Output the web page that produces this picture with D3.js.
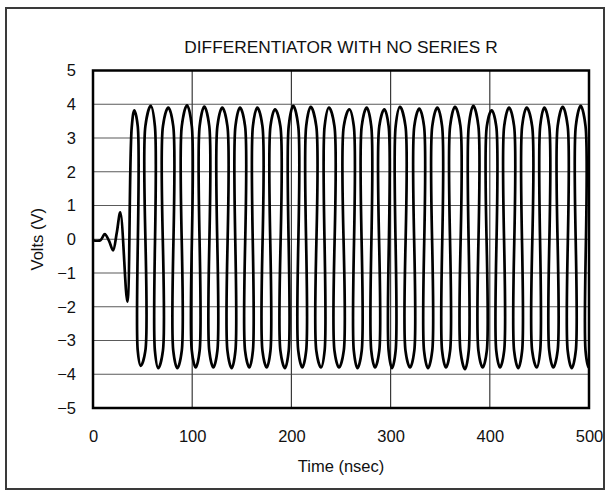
<!DOCTYPE html>
<html>
<head>
<meta charset="utf-8">
<script src="https://cdn.jsdelivr.net/npm/d3@7"></script>
<style>
  html, body { margin: 0; padding: 0; background: #fff; }
  svg { display: block; font-family: "Liberation Sans", Arial, Helvetica, sans-serif; }
</style>
</head>
<body>
<div id="chart"></div>
<script>
// ---- data ----
const chartTitle = "DIFFERENTIATOR WITH NO SERIES R";
const xLabel = "Time (nsec)";
const yLabel = "Volts (V)";
const xTicks = [0, 100, 200, 300, 400, 500];
const yTicks = [5, 4, 3, 2, 1, 0, -1, -2, -3, -4, -5];

// waveform vertices: [time (ns), volts]
const ringing = [
  [0, -0.03], [7.5, -0.03], [11.8, 0.15], [16.2, -0.05], [20.2, -0.33],
  [24, 0.2], [27.5, 0.8], [34.6, -1.85], [39.0, 3.3], [41.6, 3.82]
];
const oscillation = [
  [45.1,3.35],[45.1,-3.3],[48.1,-3.75],
  [52.8,-3.3],[52.8,3.35],[58.2,3.95],
  [62.4,3.35],[62.4,-3.3],[65.8,-3.82],
  [70.5,-3.3],[70.5,3.35],[75.9,3.9],
  [80.9,3.35],[80.9,-3.3],[85.0,-3.82],
  [89.5,-3.3],[89.5,3.35],[94.8,3.97],
  [99.6,3.35],[99.6,-3.3],[103.5,-3.8],
  [107.5,-3.3],[107.5,3.35],[112.2,3.93],
  [117.2,3.35],[117.2,-3.3],[121.3,-3.8],
  [125.4,-3.3],[125.4,3.35],[130.3,3.9],
  [135.5,3.35],[135.5,-3.3],[139.8,-3.82],
  [143.6,-3.3],[143.6,3.35],[148.2,3.9],
  [153.3,3.35],[153.3,-3.3],[157.6,-3.8],
  [161.2,-3.3],[161.2,3.35],[165.6,3.9],
  [170.8,3.35],[170.8,-3.3],[175.1,-3.8],
  [178.9,-3.3],[178.9,3.35],[183.5,3.85],
  [188.9,3.35],[188.9,-3.3],[193.5,-3.82],
  [197.3,-3.3],[197.3,3.35],[201.9,3.95],
  [206.9,3.35],[206.9,-3.3],[211.0,-3.8],
  [214.9,-3.3],[214.9,3.35],[219.5,3.92],
  [225.1,3.35],[225.1,-3.3],[229.8,-3.8],
  [233.5,-3.3],[233.5,3.35],[237.9,3.9],
  [243.4,3.35],[243.4,-3.3],[248.0,-3.8],
  [252.8,-3.3],[252.8,3.35],[258.4,3.85],
  [262.9,3.35],[262.9,-3.3],[266.6,-3.82],
  [270.9,-3.3],[270.9,3.35],[275.9,3.9],
  [280.5,3.35],[280.5,-3.3],[284.3,-3.8],
  [288.6,-3.3],[288.6,3.35],[293.7,3.85],
  [298.0,3.35],[298.0,-3.3],[301.4,-3.82],
  [305.1,-3.3],[305.1,3.35],[309.5,3.92],
  [315.0,3.35],[315.0,-3.3],[319.6,-3.8],
  [323.9,-3.3],[323.9,3.35],[328.9,3.87],
  [333.7,3.35],[333.7,-3.3],[337.7,-3.82],
  [342.0,-3.3],[342.0,3.35],[347.1,3.9],
  [351.9,3.35],[351.9,-3.3],[355.8,-3.8],
  [360.0,-3.3],[360.0,3.35],[364.9,3.92],
  [370.4,3.35],[370.4,-3.3],[375.0,-3.85],
  [378.8,-3.3],[378.8,3.35],[383.4,3.95],
  [388.5,3.35],[388.5,-3.3],[392.8,-3.8],
  [397.0,-3.3],[397.0,3.35],[401.9,3.82],
  [406.5,3.35],[406.5,-3.3],[410.3,-3.8],
  [414.5,-3.3],[414.5,3.35],[419.4,3.9],
  [424.5,3.35],[424.5,-3.3],[428.7,-3.82],
  [432.6,-3.3],[432.6,3.35],[437.2,3.9],
  [442.7,3.35],[442.7,-3.3],[447.3,-3.8],
  [450.8,-3.3],[450.8,3.35],[455.0,3.9],
  [459.9,3.35],[459.9,-3.3],[464.0,-3.8],
  [468.4,-3.3],[468.4,3.35],[473.5,3.92],
  [478.5,3.35],[478.5,-3.3],[482.6,-3.82],
  [486.7,-3.3],[486.7,3.35],[491.6,3.95],
  [496.5,3.35],[496.5,-3.3],[499.6,-3.8],[500.5,-3.6]
];

// ---- layout ----
const W = 611, H = 496;
const plot = { left: 93, right: 589, top: 70.5, bottom: 408 };
const FONT = '"Liberation Sans", Arial, Helvetica, sans-serif';
const FS = 16.5;

const svg = d3.select("#chart").append("svg")
  .attr("width", W).attr("height", H);

// outer frame
svg.append("rect")
  .attr("x", 6).attr("y", 8).attr("width", 598).attr("height", 481)
  .attr("fill", "#fff").attr("stroke", "#3a3a3a").attr("stroke-width", 2);

const x = d3.scaleLinear().domain([0, 500]).range([plot.left, plot.right]);
const y = d3.scaleLinear().domain([-5, 5]).range([plot.bottom, plot.top]);

// grid
const grid = svg.append("g");
grid.selectAll("line.h").data(yTicks.filter(v => v > -5 && v < 5)).join("line")
  .attr("x1", plot.left).attr("x2", plot.right)
  .attr("y1", d => y(d)).attr("y2", d => y(d))
  .attr("stroke", "#5a5a5a").attr("stroke-width", 1.2);
grid.selectAll("line.v").data(xTicks.filter(v => v > 0 && v < 500)).join("line")
  .attr("y1", plot.top).attr("y2", plot.bottom)
  .attr("x1", d => x(d)).attr("x2", d => x(d))
  .attr("stroke", "#3a3a3a").attr("stroke-width", 1.2);

// axes tick labels (using d3 axes, domain/ticks hidden)
const xAxis = d3.axisBottom(x).tickValues(xTicks).tickSize(0).tickPadding(22);
const gx = svg.append("g").attr("transform", `translate(0,${plot.bottom})`).call(xAxis);
gx.select(".domain").remove();
gx.selectAll("text").attr("font-size", FS).attr("fill", "#111").attr("font-family", FONT);

const yAxis = d3.axisLeft(y).tickValues(yTicks).tickSize(0).tickPadding(17)
  .tickFormat(d => d < 0 ? "\u2212" + Math.abs(d) : String(d));
const gy = svg.append("g").attr("transform", `translate(${plot.left},0)`).call(yAxis);
gy.select(".domain").remove();
gy.selectAll("text").attr("font-size", FS).attr("fill", "#111").attr("font-family", FONT);

// clip path for the trace
svg.append("clipPath").attr("id", "clip").append("rect")
  .attr("x", plot.left).attr("y", plot.top)
  .attr("width", plot.right - plot.left).attr("height", plot.bottom - plot.top);

const line = d3.line()
  .x(d => x(d[0])).y(d => y(d[1]))
  .curve(d3.curveCatmullRom.alpha(0.5));

svg.append("path")
  .datum(ringing.concat(oscillation))
  .attr("clip-path", "url(#clip)")
  .attr("d", line)
  .attr("fill", "none").attr("stroke", "#000")
  .attr("stroke-width", 2.7).attr("stroke-linejoin", "round").attr("stroke-linecap", "round");

// plot border
svg.append("rect")
  .attr("x", plot.left).attr("y", plot.top)
  .attr("width", plot.right - plot.left).attr("height", plot.bottom - plot.top)
  .attr("fill", "none").attr("stroke", "#000").attr("stroke-width", 2.5);

// title and axis titles
svg.append("text").attr("x", (plot.left + plot.right) / 2).attr("y", 53)
  .attr("text-anchor", "middle").attr("font-size", 17.3).attr("fill", "#111")
  .attr("font-family", FONT).text(chartTitle);
svg.append("text").attr("x", (plot.left + plot.right) / 2).attr("y", 472)
  .attr("text-anchor", "middle").attr("font-size", FS).attr("fill", "#111")
  .attr("font-family", FONT).text(xLabel);
svg.append("text")
  .attr("transform", `translate(43,${(plot.top + plot.bottom) / 2}) rotate(-90)`)
  .attr("text-anchor", "middle").attr("font-size", FS).attr("fill", "#111")
  .attr("font-family", FONT).text(yLabel);
</script>
</body>
</html>
